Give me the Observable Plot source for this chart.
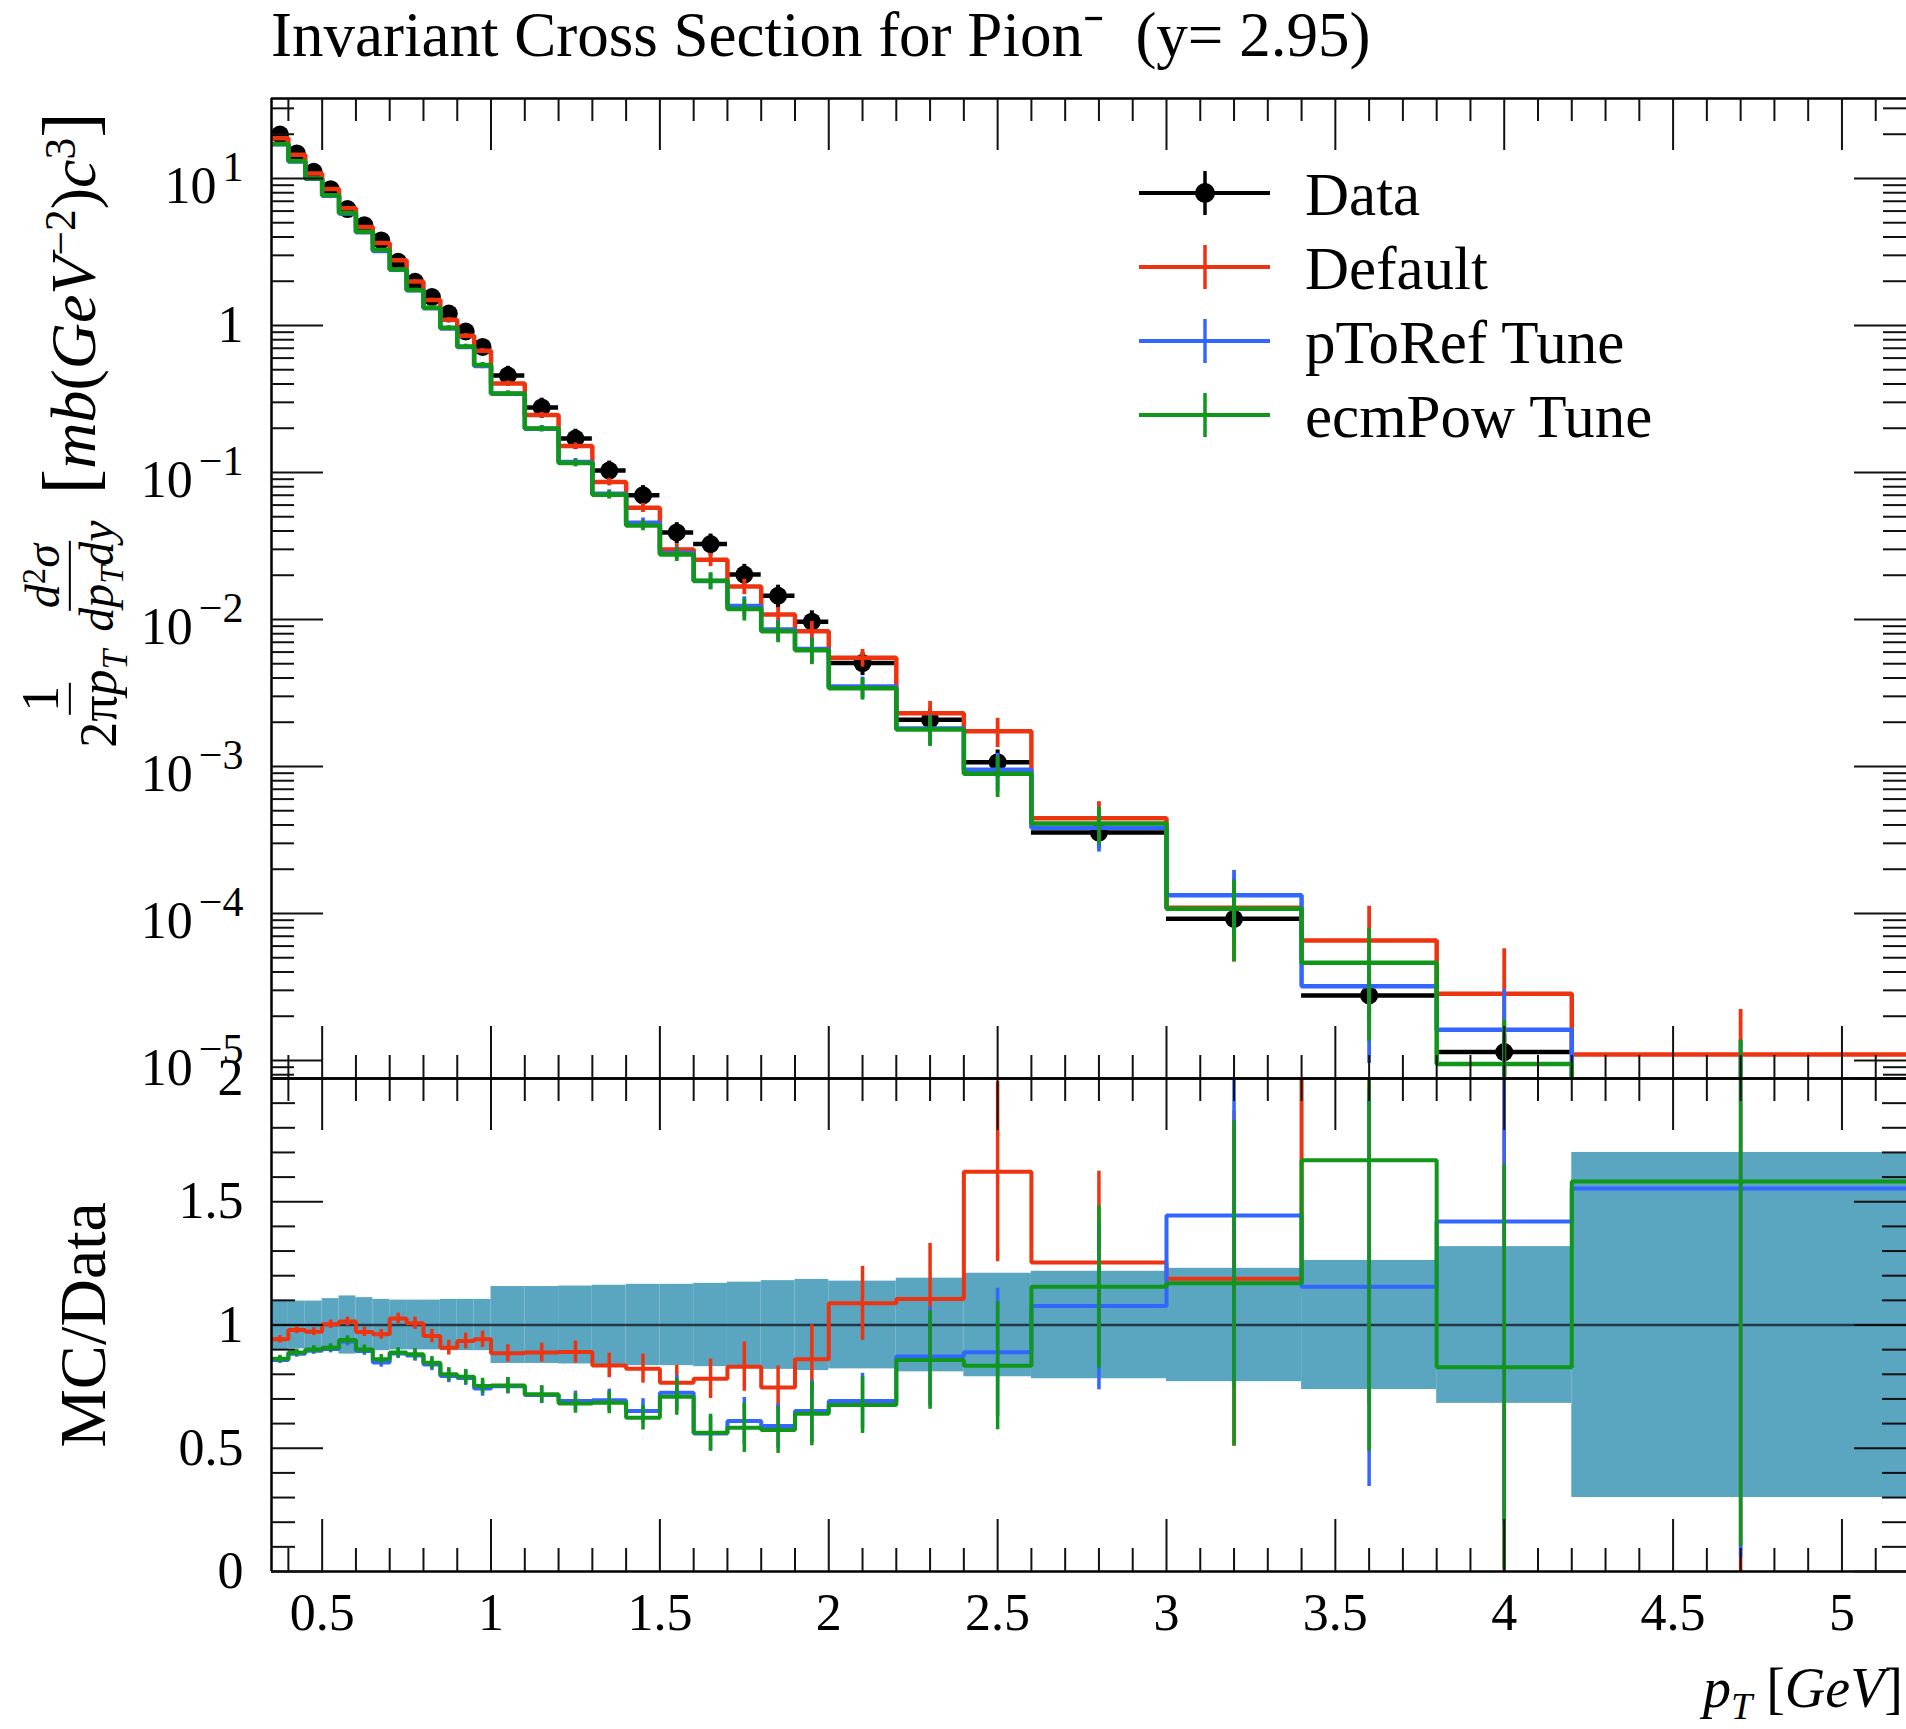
<!DOCTYPE html>
<html><head><meta charset="utf-8">
<script src="https://cdn.jsdelivr.net/npm/d3@7"></script>
<script src="https://cdn.jsdelivr.net/npm/@observablehq/plot@0.6"></script>
<style>
html,body{margin:0;padding:0;background:#fff;}
#c{position:relative;width:1906px;height:1729px;overflow:hidden;font-family:"Liberation Serif",serif;color:#000;}
.abs{position:absolute;white-space:nowrap;line-height:1;}
.sup{font-size:0.68em;position:relative;top:-0.45em;}
.sub{font-size:0.68em;position:relative;top:0.3em;}
.frac{display:inline-flex;flex-direction:column;align-items:center;line-height:1.08;}
.frac .num{border-bottom:2.5px solid #000;padding:0 3px;}
#c svg{position:absolute;left:0;}
</style></head>
<body><div id="c"></div>
<script>
// ---- data ----
const binEdges = [0.35,0.40,0.45,0.50,0.55,0.60,0.65,0.70,0.75,0.80,0.85,0.90,0.95,1.0,1.1,1.2,1.3,1.4,1.5,1.6,1.7,1.8,1.9,2.0,2.2,2.4,2.6,3.0,3.4,3.8,4.2,5.2];
const dataValue = [19.9,14.8,11.1,8.46,6.19,4.81,3.79,2.71,1.98,1.56,1.205,0.91,0.715,0.456,0.277,0.170,0.103,0.0699,0.0391,0.0326,0.0202,0.0145,0.00966,0.00505,0.00208,0.00107,0.000355,0.000092,0.0000277,0.0000114,0.0000045];
const dataRelErr = [0.100,0.097,0.097,0.107,0.118,0.111,0.104,0.101,0.101,0.101,0.104,0.104,0.104,0.156,0.156,0.158,0.161,0.165,0.165,0.169,0.174,0.180,0.185,0.178,0.190,0.210,0.218,0.230,0.262,0.318,0.700];
const ratioDefault = [0.942,0.980,0.973,1.003,1.014,0.972,0.962,1.026,1.007,0.955,0.908,0.935,0.942,0.885,0.888,0.890,0.836,0.823,0.766,0.782,0.831,0.746,0.861,1.088,1.105,1.622,1.254,1.188,2.36,2.49,2.44];
const errDefault = [0.015,0.015,0.016,0.017,0.018,0.019,0.020,0.022,0.025,0.027,0.030,0.032,0.033,0.035,0.038,0.045,0.050,0.059,0.070,0.080,0.100,0.088,0.140,0.150,0.226,0.365,0.370,0.680,1.68,2.55,2.50];
const ratioPToRef = [0.858,0.883,0.896,0.903,0.933,0.895,0.848,0.884,0.876,0.840,0.793,0.785,0.742,0.752,0.716,0.692,0.695,0.651,0.725,0.560,0.611,0.590,0.651,0.692,0.872,0.889,1.077,1.444,1.155,1.420,1.554];
const errPToRef = [0.014,0.014,0.015,0.016,0.017,0.018,0.019,0.020,0.023,0.025,0.027,0.030,0.031,0.032,0.035,0.040,0.045,0.050,0.070,0.070,0.095,0.090,0.125,0.112,0.200,0.260,0.340,0.690,0.810,1.230,1.500];
const ratioEcmPow = [0.863,0.888,0.901,0.908,0.939,0.901,0.861,0.888,0.881,0.847,0.800,0.790,0.753,0.755,0.719,0.682,0.685,0.624,0.709,0.563,0.583,0.574,0.640,0.675,0.858,0.835,1.155,1.169,1.668,0.829,1.582];
const errEcmPow = [0.014,0.014,0.015,0.016,0.017,0.018,0.019,0.020,0.023,0.025,0.027,0.030,0.031,0.032,0.035,0.040,0.045,0.050,0.075,0.075,0.100,0.095,0.130,0.115,0.200,0.260,0.330,0.660,1.180,0.820,1.480];
const seriesNames = ["Default","pToRef Tune","ecmPow Tune"];
const seriesColors = ["#EE3311","#3366FF","#109618"];
const xTickLabels = [0.5,1,1.5,2,2.5,3,3.5,4,4.5,5];
const yTopTickLabels = [1e-5,1e-4,1e-3,1e-2,1e-1,1,10];
const yRatioTickLabels = [0,0.5,1,1.5,2];

// ---- layout ----
const W = 1906, XL = 271, XR = 1909, YT = 98, YM = 1078, YB = 1571, H = 1729;
const FW = W - XL, FHt = YM - YT, FHb = YB - YM;
const xDomain = [0.35, 5.2], yTopDomain = [7.54e-6, 35.0], yRatioDomain = [0, 2];
const tk = {stroke:"#111", strokeWidth:2};
const xMinor = d3.range(4, 52).map(d => d/10).filter(d => Math.abs(d*2 - Math.round(d*2)) > 1e-6);
const yMinor = [];
for (let k = -6; k <= 1; k++) for (let m = 2; m <= 9; m++) { const v = m*Math.pow(10,k); if (v > yTopDomain[0] && v < yTopDomain[1]) yMinor.push(v); }
const yRatioMinor = d3.range(1, 20).map(d => d/10).filter(d => d % 0.5 > 1e-6 && Math.abs(d % 0.5 - 0.5) > 1e-6);

const bins = dataValue.map((v,i) => ({lo: binEdges[i], hi: binEdges[i+1], mid: (binEdges[i]+binEdges[i+1])/2, v, rel: dataRelErr[i]}));
const series = [[ratioDefault, errDefault],[ratioPToRef, errPToRef],[ratioEcmPow, errEcmPow]].map(([r,e],s) => ({
  name: seriesNames[s], color: seriesColors[s],
  rows: bins.map((b,i) => ({lo:b.lo, hi:b.hi, mid:b.mid, r:r[i], re:e[i], v:r[i]*b.v, ve:e[i]*b.v}))
}));
const steps = (rows, key) => rows.flatMap(d => [{x:d.lo, y:d[key]}, {x:d.hi, y:d[key]}]);
const pos = v => Math.max(v, 1e-12);

const topMarks = [
  Plot.ruleY(bins, {y:"v", x1:"lo", x2:"hi", stroke:"black", strokeWidth:4.5, clip:true}),
  Plot.ruleX(bins, {x:"mid", y1:d => pos(d.v*(1-d.rel)), y2:d => d.v*(1+d.rel), stroke:"black", strokeWidth:4, clip:true}),
  Plot.dot(bins, {x:"mid", y:"v", r:9, fill:"black", stroke:"none", clip:true}),
];
for (const s of series) {
  topMarks.push(
    Plot.ruleX(s.rows, {x:"mid", y1:d => pos(d.v - d.ve), y2:d => d.v + d.ve, stroke:s.color, strokeWidth:3.8, clip:true}),
    Plot.line(steps(s.rows, "v"), {x:"x", y:"y", stroke:s.color, strokeWidth:4.5, strokeLinejoin:"miter", strokeLinecap:"butt", clip:true})
  );
}
topMarks.push(
  Plot.ruleX([xDomain[0]], {strokeWidth:2.5}),
  Plot.ruleY([yTopDomain[1]], {strokeWidth:2.5}),
  Plot.ruleY([yTopDomain[0]], {strokeWidth:2.5}),
  Plot.ruleX(xTickLabels, {...tk, insetBottom: FHt-52}),
  Plot.ruleX(xMinor, {...tk, insetBottom: FHt-23}),
  Plot.ruleX(xTickLabels, {...tk, insetTop: FHt-52}),
  Plot.ruleX(xMinor, {...tk, insetTop: FHt-23}),
  Plot.ruleY(yTopTickLabels, {...tk, insetRight: FW-52}),
  Plot.ruleY(yMinor, {...tk, insetRight: FW-23}),
  Plot.ruleY(yTopTickLabels, {...tk, insetLeft: FW-52}),
  Plot.ruleY(yMinor, {...tk, insetLeft: FW-23}),
  Plot.axisY(yTopTickLabels, {anchor:"left", tickSize:0, tickPadding:28, fontSize:52, label:null,
    tickFormat: d => d === 1 ? "1" : "10^" + Math.round(Math.log10(d))})
);

const topPlot = Plot.plot({
  width: W, height: YM, marginTop: YT, marginBottom: 0, marginLeft: XL, marginRight: 0,
  style: {fontFamily: "Liberation Serif", fontSize: "52px", background: "transparent", overflow: "visible"},
  x: {domain: xDomain, range: [XL, XR], axis: null, label: null},
  y: {type: "log", domain: yTopDomain, range: [YM, YT], label: null},
  marks: topMarks
});

const botMarks = [
  Plot.rect(bins, {x1:"lo", x2:"hi", y1:d => 1-d.rel, y2:d => 1+d.rel, fill:"#5aa6c1", clip:true}),
  Plot.ruleY([1], {stroke:"black", strokeOpacity:0.65, strokeWidth:2.5})
];
for (const s of series) {
  botMarks.push(
    Plot.ruleX(s.rows, {x:"mid", y1:d => d.r - d.re, y2:d => d.r + d.re, stroke:s.color, strokeWidth:3.5, clip:true}),
    Plot.line(steps(s.rows, "r"), {x:"x", y:"y", stroke:s.color, strokeWidth:4, strokeLinejoin:"miter", strokeLinecap:"butt", clip:true})
  );
}
botMarks.push(
  Plot.ruleX([xDomain[0]], {strokeWidth:2.5}),
  Plot.ruleY([0], {strokeWidth:2.5}),
  Plot.ruleY([2], {strokeWidth:2.5}),
  Plot.ruleX(xTickLabels, {...tk, insetBottom: FHb-52}),
  Plot.ruleX(xMinor, {...tk, insetBottom: FHb-23}),
  Plot.ruleX(xTickLabels, {...tk, insetTop: FHb-52}),
  Plot.ruleX(xMinor, {...tk, insetTop: FHb-23}),
  Plot.ruleY(yRatioTickLabels, {...tk, insetRight: FW-52}),
  Plot.ruleY(yRatioMinor, {...tk, insetRight: FW-24}),
  Plot.ruleY(yRatioTickLabels, {...tk, insetLeft: FW-52}),
  Plot.ruleY(yRatioMinor, {...tk, insetLeft: FW-24}),
  Plot.axisX(xTickLabels, {anchor:"bottom", tickSize:0, tickPadding:22, fontSize:52, label:null, tickFormat: d => String(d)}),
  Plot.axisY(yRatioTickLabels, {anchor:"left", tickSize:0, tickPadding:28, fontSize:52, label:null, tickFormat: d => String(d)})
);
const botPlot = Plot.plot({
  width: W, height: H - YM, marginTop: 0, marginBottom: H - YB, marginLeft: XL, marginRight: 0,
  style: {fontFamily: "Liberation Serif", fontSize: "52px", background: "transparent", overflow: "visible"},
  x: {domain: xDomain, range: [XL, XR], label: null},
  y: {domain: yRatioDomain, label: null},
  marks: botMarks
});

const c = document.getElementById("c");
botPlot.style.top = YM + "px";
topPlot.style.top = "0px";
c.append(botPlot, topPlot);

// superscript exponents on the log axis labels
const NS = "http://www.w3.org/2000/svg";
topPlot.querySelectorAll('g[aria-label="y-axis tick label"] text').forEach(t => {
  const s = t.textContent;
  if (!s.startsWith("10^")) return;
  const e = s.slice(3).replace("-", "\u2212");
  t.textContent = "";
  const a = document.createElementNS(NS, "tspan"); a.textContent = "10"; a.setAttribute("dy", "8");
  const b = document.createElementNS(NS, "tspan"); b.textContent = e; b.setAttribute("dy", "-22"); b.setAttribute("dx", "6"); b.setAttribute("font-size", "42");
  t.append(a, b);
});

// HTML text: title, axis labels, legend
function addText(html, left, baseline, size, extra = "") {
  const d = document.createElement("div");
  d.className = "abs";
  d.style.cssText = `left:${left}px;top:${baseline - 0.8375*size}px;font-size:${size}px;${extra}`;
  d.innerHTML = html;
  c.append(d);
  return d;
}
addText('Invariant Cross Section for Pion\u207B&nbsp;&nbsp;(y= 2.95)', XL, 57, 63);

const xl = document.createElement("div");
xl.className = "abs";
xl.style.cssText = `right:3px;top:${1707 - 0.8375*56}px;font-size:56px;`;
xl.innerHTML = '<i>p</i><span class="sub"><i>T</i></span> [<i>GeV</i>]';
c.append(xl);

const mc = document.createElement("div");
mc.className = "abs";
mc.style.cssText = `left:83px;top:${(YM+YB)/2}px;font-size:66px;transform:translate(-50%,-50%) rotate(-90deg);`;
mc.textContent = "MC/Data";
c.append(mc);

const yl = document.createElement("div");
yl.className = "abs";
yl.style.cssText = `left:70px;top:430px;transform:translate(-50%,-50%) rotate(-90deg);display:flex;align-items:center;`;
yl.innerHTML =
  '<span class="frac" style="font-size:52px"><span class="num">1</span><span>2\u03c0<i>p</i><span class="sub"><i>T</i></span></span></span>' +
  '<span style="display:inline-block;width:18px"></span>' +
  '<span class="frac" style="font-size:48px"><span class="num"><i>d</i><span class="sup">2</span><i>\u03c3</i></span><span><i>dp</i><span class="sub"><i>T</i></span><i>dy</i></span></span>' +
  '<span style="display:inline-block;width:26px"></span>' +
  '<span style="font-size:64px"><span style="font-size:1.2em">[</span><i>mb</i>(<i>GeV</i><span class="sup">\u22122</span>)<i>c</i><span class="sup">3</span><span style="font-size:1.2em">]</span></span>';
c.append(yl);

const legendRows = [{name:"Data", color:"black", dot:true}].concat(seriesNames.map((n,i) => ({name:n, color:seriesColors[i], dot:false})));
const legendY = [193, 267, 341, 415];
legendRows.forEach((r, i) => {
  const y = legendY[i];
  const sw = document.createElement("div");
  sw.className = "abs";
  sw.style.cssText = `left:1139px;top:${y-25}px;width:131px;height:50px;`;
  sw.innerHTML = `<svg width="131" height="50" style="position:static;overflow:visible"><line x1="0" y1="25" x2="131" y2="25" stroke="${r.color}" stroke-width="4"/><line x1="66" y1="3" x2="66" y2="47" stroke="${r.color}" stroke-width="3.5"/>${r.dot ? '<circle cx="66" cy="25" r="10" fill="black"/>' : ''}</svg>`;
  c.append(sw);
  addText(r.name, 1305, y + 22, 61);
});
</script>
</body></html>
